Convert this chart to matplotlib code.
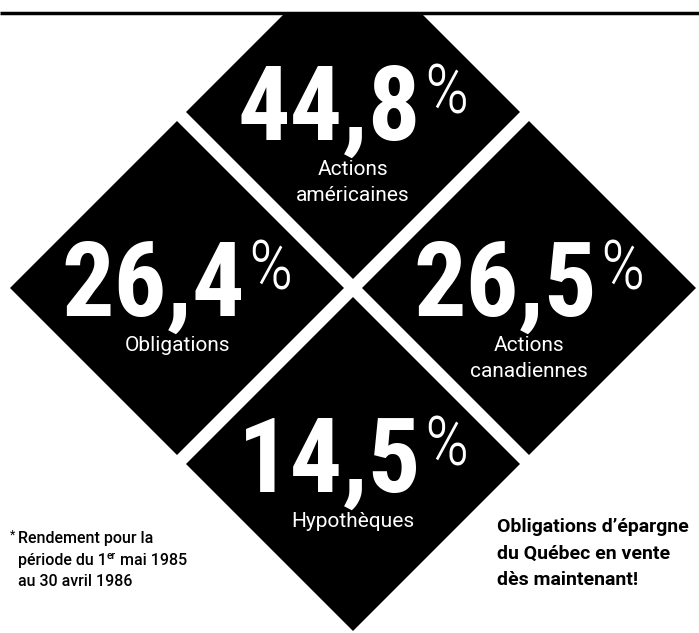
import matplotlib
matplotlib.use("Agg")
import matplotlib.pyplot as plt
from matplotlib.patches import Polygon, Rectangle

# data
values = [44.8, 26.4, 26.5, 14.5]
labels = ["Actions\naméricaines", "Obligations", "Actions\ncanadiennes", "Hypothèques"]
places = ["top", "left", "right", "bottom"]

note_left = ["Rendement pour la", "période du 1", "er", " mai 1985", "au 30 avril 1986"]
note_right = ["Obligations d’épargne", "du Québec en vente", "dès maintenant!"]

NARROW = ["Roboto Condensed", "DejaVu Sans"]
SANS = ["Roboto", "DejaVu Sans"]

W, H = 699, 633
fig = plt.figure(figsize=(W / 100, H / 100), dpi=100)
ax = fig.add_axes([0, 0, 1, 1])
ax.set_xlim(0, W)
ax.set_ylim(H, 0)
ax.axis("off")
r = fig.canvas.get_renderer()

# layout in pixels
cx, cy = 353, 288
step = 176
half = 167
line_y = 13
offsets = {"top": (0, -step), "left": (-step, 0), "right": (step, 0), "bottom": (0, step)}

ax.plot([0, W], [line_y, line_y], color="black", lw=2.5, solid_capstyle="butt", zorder=3)

def width(t):
    return t.get_window_extent(renderer=r).width

for v, lab, p in zip(values, labels, places):
    dx, dy = offsets[p]
    x0, y0 = cx + dx, cy + dy
    poly = Polygon([(x0, y0 - half), (x0 + half, y0), (x0, y0 + half), (x0 - half, y0)],
                   closed=True, facecolor="black", edgecolor="none", zorder=1)
    ax.add_patch(poly)
    poly.set_clip_path(Rectangle((0, line_y), W, H - line_y, transform=ax.transData))

    num = f"{v:.1f}".replace(".", ",")
    t1 = ax.text(0, y0 + 28, num, color="white", fontsize=75, fontweight="bold",
                 family=NARROW, ha="left", va="baseline", zorder=2)
    t2 = ax.text(0, y0 + 2, "%", color="white", fontsize=50, fontweight="light",
                 family=NARROW, ha="left", va="baseline", zorder=2)
    w1, w2 = width(t1), width(t2)
    gap = 3
    left = x0 - (w1 + gap + w2) / 2
    t1.set_x(left)
    t2.set_x(left + w1 + gap)

    for i, line in enumerate(lab.split("\n")):
        ax.text(x0, y0 + 63 + 26 * i, line, color="white", fontsize=15,
                family=SANS, ha="center", va="baseline", zorder=2)

# note, bottom left
fs = 11.5
ax.text(10, 539, "*", fontsize=9, family=SANS, ha="left", va="baseline")
ax.text(18, 543, note_left[0], fontsize=fs, fontweight="medium", family=SANS, ha="left", va="baseline")
xx = 18
t = ax.text(xx, 565, note_left[1], fontsize=fs, fontweight="medium", family=SANS, ha="left", va="baseline")
xx += width(t)
t = ax.text(xx, 559, note_left[2], fontsize=7.5, fontweight="medium", family=SANS, ha="left", va="baseline")
xx += width(t)
ax.text(xx, 565, note_left[3], fontsize=fs, fontweight="medium", family=SANS, ha="left", va="baseline")
ax.text(18, 586, note_left[4], fontsize=fs, fontweight="medium", family=SANS, ha="left", va="baseline")

# note, bottom right
for i, line in enumerate(note_right):
    ax.text(497, 532 + 26.5 * i, line, fontsize=14, fontweight="bold",
            family=SANS, ha="left", va="baseline")

fig.savefig("out.png", dpi=100, facecolor="white")
